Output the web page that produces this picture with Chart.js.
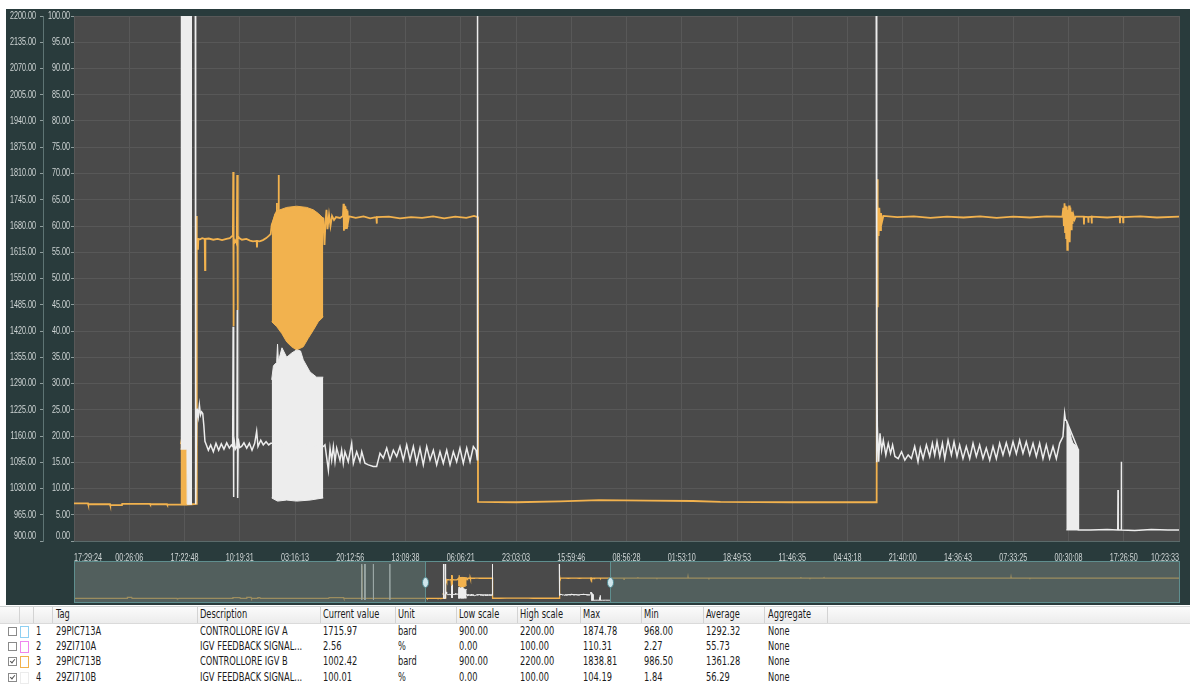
<!DOCTYPE html>
<html>
<head>
<meta charset="utf-8">
<title>IGV trend</title>
<script src="https://cdn.jsdelivr.net/npm/chart.js@4.4.1/dist/chart.umd.min.js"></script>
<style>
  html, body { margin: 0; padding: 0; background: #fff; width: 1190px; height: 684px; overflow: hidden; }
  body { font-family: 'DejaVu Sans Condensed', 'Liberation Sans', Arial, sans-serif; }
  #panel { position: absolute; left: 6px; top: 9px; width: 1184px; height: 596px; background: #293b3c; }
  #main { position: absolute; left: 6px; top: 9px; }
  #nav { position: absolute; left: 74px; top: 561px; }
  #grid { position: absolute; left: 0; top: 605px; width: 1190px; height: 79px; background: #fff; font-size: 11.5px; color: #1b1b1b; }
  #grid .hdr { position: absolute; left: 0; top: 1px; width: 1190px; height: 16px; background: linear-gradient(#fbfbfb, #ececec); border-top: 1px solid #cfd3d3; border-bottom: 1px solid #dadada; }
  #grid .sep { position: absolute; top: 2px; width: 1px; height: 16px; background: #d3d3d3; }
  #grid .cell { position: absolute; white-space: nowrap; line-height: 15px; height: 15px; transform: scaleX(0.8); transform-origin: 0 50%; }
  #grid .box { position: absolute; width: 7px; height: 7px; border: 1px solid #8a8a8a; background: #fff; }
  #grid .box.on::after { content: ''; position: absolute; left: 2px; top: 0px; width: 2px; height: 4px; border: solid #555; border-width: 0 1px 1px 0; transform: rotate(40deg); }
  #grid .swatch { position: absolute; width: 7px; height: 10px; border: 1px solid; background: #fff; }
</style>
</head>
<body>
<div id="panel"></div>
<canvas id="main" width="1184" height="552"></canvas>
<canvas id="nav" width="1106" height="42"></canvas>
<div id="grid"></div>
<script>
// ---- time axis (sample index 0..1000 across the visible window) ----
const xTickLabels = ['17:29:24', '00:26:06', '17:22:48', '10:19:31', '03:16:13', '20:12:56', '13:09:38',
  '06:06:21', '23:03:03', '15:59:46', '08:56:28', '01:53:10', '18:49:53', '11:46:35', '04:43:18',
  '21:40:00', '14:36:43', '07:33:25', '00:30:08', '17:26:50', '10:23:33'];
const viewStart = 0, viewEnd = 1000, tickStep = 50;
const historyStart = -1897, historyEnd = 4076;

// ---- 29PIC713B, controller IGV B [bard] ----
const orangePoints = [
  [0, 993], [12.7, 993], [12.9, 991], [32.6, 991], [32.8, 989], [43.4, 989], [43.6, 992], [68.8, 992],
  [69, 991], [84.2, 991], [84.4, 990], [96.2, 990], [102.4, 990], [106.8, 991], [110.7, 992],
  [110.9, 1705], [111.3, 1650], [111.8, 1646], [112.2, 1621], [112.5, 1648], [114, 1647], [116, 1650],
  [118.3, 1648], [118.6, 1571], [118.9, 1648], [122, 1649], [126, 1646], [130, 1648], [134, 1645],
  [138, 1648], [141, 1650], [143.0, 1655], [143.8, 1662], [144.1, 1814], [144.3, 1432], [144.6, 1650],
  [145.5, 1640], [146.5, 1645], [147.3, 1636], [147.7, 1806], [148.0, 1472], [148.4, 1655], [149.5, 1650],
  [152, 1646], [156, 1648], [159.3, 1644], [162, 1642], [165.3, 1643], [165.6, 1627], [165.9, 1643],
  [168, 1642], [171, 1645], [174, 1650], [176.5, 1656], [178.0, 1660], [178.9, 1682], [183.3, 1715],
  [183.5, 1737], [183.7, 1715], [185.0, 1718], [185.2, 1806], [185.4, 1718], [205, 1720], [225.6, 1699],
  [226.7, 1633], [227.6, 1690], [228.5, 1720], [229.4, 1672], [230.8, 1708], [232.1, 1680], [233.5, 1705],
  [235.3, 1695], [237.1, 1702], [240.7, 1700], [243.4, 1705], [243.9, 1735], [244.3, 1668], [244.8, 1730],
  [245.2, 1672], [245.7, 1728], [246.2, 1675], [246.6, 1722], [247.1, 1680], [247.5, 1718], [248.0, 1690],
  [248.9, 1704], [255, 1700], [262, 1704], [268, 1699], [273.6, 1702], [273.9, 1686], [274.2, 1702],
  [285, 1703], [295, 1699], [305, 1702], [315, 1700], [325, 1704], [335, 1699], [345, 1703], [355, 1700],
  [362, 1705], [365.4, 1702], [365.6, 997], [400, 996], [440, 998], [475, 1001], [520, 1000], [560, 999],
  [585, 997], [650, 996], [726.4, 996], [726.7, 1796], [727.0, 1479], [727.6, 1732], [728.2, 1655],
  [728.8, 1725], [729.5, 1670], [730.3, 1712], [731.2, 1690], [732.5, 1705], [745, 1702], [760, 1704],
  [775, 1700], [790, 1703], [805, 1701], [820, 1704], [835, 1700], [850, 1703], [865, 1701], [880, 1704],
  [894.5, 1703], [895.3, 1725], [895.8, 1680], [896.4, 1736], [896.9, 1665], [897.4, 1730], [897.9, 1650],
  [898.4, 1728], [898.9, 1621], [899.4, 1720], [899.9, 1660], [900.5, 1731], [901.1, 1640], [901.7, 1726],
  [902.3, 1672], [902.9, 1715], [903.6, 1685], [904.4, 1708], [905.5, 1696], [906.5, 1703], [913.8, 1703],
  [914.0, 1684], [914.2, 1703], [917.8, 1702], [918.0, 1688], [918.2, 1702], [920.8, 1703], [921.0, 1686],
  [921.2, 1703], [935, 1701], [946.4, 1703], [946.6, 1687], [946.8, 1703], [949.3, 1702], [949.5, 1689],
  [949.7, 1702], [965, 1704], [980, 1701], [1000, 1703]
];
// dense oscillation envelopes (min / max per time slice)
const orangeSurgeTop = [[96.4, 1140], [98.0, 1165], [100.0, 1170], [102.3, 1120]];
const orangeSurgeBottom = [[96.4, 990], [98.0, 990], [100.0, 990], [102.3, 990]];
const orangeBurstTop = [[178.9, 1682], [181.9, 1711], [186.4, 1720], [192.5, 1726], [201.5, 1729],
  [210.6, 1726], [216.6, 1720], [221.1, 1711], [225.6, 1699]];
const orangeBurstBottom = [[178.9, 1443], [183.4, 1431], [188.0, 1414], [192.5, 1393], [197.0, 1381],
  [201.5, 1373], [204.5, 1377], [207.5, 1381], [212.0, 1402], [216.6, 1422], [221.1, 1443], [225.6, 1455]];

// ---- 29ZI710B, IGV feedback signal [%] (values above 100 run off the top) ----
const whitePoints = [
  [0, 104], [96.0, 104], [106.8, 104], [109.8, 104], [110.1, 7], [110.9, 22.5], [111.5, 25.2], [112.5, 23.7],
  [113.5, 25.9], [114.5, 24.0], [115.5, 24.6], [116.5, 24.3], [117.5, 22.0], [118.5, 19.0], [119.2, 18.6],
  [121.6, 17.3], [123.7, 18.3], [126.1, 17.0], [128.5, 18.6], [130.9, 17.3], [133.3, 18.5], [135.7, 17.5],
  [138.2, 18.7], [140.6, 17.7], [142.4, 18.3], [143.6, 18.0], [144.0, 40.8], [144.3, 8.4], [144.7, 20],
  [146, 17.5], [147.4, 18.0], [147.8, 44], [148.1, 8.2], [148.6, 19.5], [150, 17.8], [151.7, 18.0],
  [153.8, 18.7], [156.3, 17.7], [158.7, 18.6], [161.1, 17.3], [163.5, 18.6], [165.3, 20.9], [166.5, 18.0],
  [169.0, 19.2], [171.3, 18.3], [173.8, 18.9], [176.2, 18.3], [178.0, 18.6], [178.9, 18.6], [225.6, 18.0],
  [227.1, 18.3], [230.2, 13.5], [231.7, 17.7], [233.2, 15.4], [234.7, 18.0], [236.2, 15.1], [237.7, 17.7],
  [240.7, 15.4], [242.2, 17.3], [243.7, 14.8], [245.2, 17.0], [248.2, 15.1], [251.3, 18.6], [252.8, 14.8],
  [255.8, 17.0], [258.8, 15.1], [260.4, 17.0], [263.3, 14.8], [266.4, 14.5], [270.9, 14.2], [273.9, 14.2],
  [276.9, 16.7], [279.9, 15.8], [283.0, 17.7], [286.0, 15.4], [289.0, 17.3], [292.0, 16.1], [295.0, 18.0],
  [298.0, 15.4], [301.1, 18.3], [304.1, 15.4], [307.1, 18.0], [310.1, 14.8], [313.1, 17.7], [316.1, 14.5],
  [319.2, 18.0], [322.2, 15.4], [325.2, 17.3], [328.2, 14.5], [331.2, 17.0], [334.2, 14.8], [337.3, 17.3],
  [340.3, 14.5], [343.3, 17.0], [346.3, 15.1], [349.3, 17.7], [352.3, 14.8], [355.4, 17.7], [358.4, 15.1],
  [361.4, 18.0], [363.8, 17.3], [365.0, 15.5], [365.2, 104], [726.0, 104], [726.3, 15], [726.6, 35],
  [727.0, 21.8], [728.2, 15.1], [729.4, 20.5], [730.9, 17.3], [732.4, 19.2], [734.7, 16.4], [736.9, 18.6],
  [739.0, 16.7], [740.8, 18.3], [742.9, 16.1], [745.9, 15.7], [748.9, 17.0], [751.9, 15.4], [754.9, 16.4],
  [757.8, 15.7], [760.8, 18.0], [763.8, 15.1], [765.9, 17.7], [768.4, 15.7], [771.4, 18.3], [774.4, 16.1],
  [776.8, 18.6], [778.9, 16.4], [781.0, 18.9], [783.5, 16.1], [785.9, 18.6], [788.0, 15.7], [791.0, 19.2],
  [794.0, 16.4], [796.4, 18.9], [799.1, 16.1], [801.5, 18.3], [804.5, 15.7], [807.5, 18.0], [810.6, 15.7],
  [813.6, 18.6], [816.6, 16.1], [819.6, 18.3], [822.6, 15.7], [825.6, 17.7], [828.7, 15.4], [831.7, 18.0],
  [834.7, 15.7], [837.7, 18.6], [840.7, 16.4], [843.7, 18.7], [846.8, 16.4], [849.8, 18.9], [852.8, 16.6],
  [855.8, 19.2], [858.8, 16.7], [861.8, 18.9], [864.9, 16.4], [867.9, 18.6], [870.9, 16.1], [873.9, 18.6],
  [876.9, 15.7], [879.9, 18.3], [882.9, 15.7], [886.0, 18.0], [889.0, 15.7], [892.0, 18.6], [895.0, 19.9],
  [896.5, 24.3], [897.3, 23.0], [898.0, 23.0], [908.6, 17.5], [909.0, 2.1], [920, 2.1], [935, 2.2],
  [944.6, 2.1], [944.8, 9.7], [945.0, 2.1], [947.6, 2.1], [947.8, 15.1], [948.0, 2.1], [960, 2.0],
  [975, 2.2], [990, 2.1], [1000, 2.1]
];
const whiteSpikeTop = [[96.4, 104], [102.3, 104], [106.8, 104]];
const whiteSpikeBottom = [[96.4, 17.5], [102.2, 17.5], [102.4, 7.0], [106.8, 7.0]];
const whiteBurstTop = [[178.9, 30.7], [180.5, 33.4], [183.4, 34.0], [184.2, 37.5], [185.0, 34.2], [188.2, 36.8],
  [192.5, 35.0], [197.0, 35.8], [201.5, 36.4], [205.0, 36.2], [207.5, 34.5], [213.6, 32.2], [219.6, 31.2], [225.6, 31.2]];
const whiteBurstBottom = [[178.9, 8.2], [184.2, 7.6], [192.5, 7.8], [201.5, 7.6], [213.6, 7.8], [225.6, 8.2]];
const whiteTailTop = [[898.0, 23.0], [899.5, 22.0], [901.1, 21.0], [902.6, 19.5], [904.1, 18.6], [906.0, 18.3], [908.6, 17.5]];
const whiteTailBottom = [[898.0, 2.1], [908.6, 2.1]];

// ---- history outside the visible window (overview strip) ----
const orangeBefore = [[-1897, 990], [-1610, 990], [-1608, 1025], [-1585, 1025], [-1583, 990], [-1340, 990],
  [-1338, 975], [-1330, 990], [-1040, 990], [-1038, 1022], [-1000, 1022], [-998, 993], [-965, 993],
  [-963, 1025], [-940, 1025], [-938, 993], [-905, 993], [-903, 1020], [-892, 1020], [-890, 993], [-520, 993],
  [-518, 1022], [-440, 1022], [-438, 990], [-342, 990], [-341, 2150], [-340, 990], [-10, 990]];
const whiteBefore = [[-1897, 104], [-342, 104], [-341.5, 3], [-341, 104], [-325, 104], [-324.5, 3], [-324, 104],
  [-279, 104], [-278.5, 3], [-278, 104], [-190, 104], [-189.5, 3], [-189, 104], [-1, 104]];
const orangeAfter = [[1010, 1703], [1075, 1702], [1076, 1660], [1077, 1703], [1150, 1703], [1151, 1740],
  [1152, 1703], [1253, 1702], [1254, 1665], [1255, 1702], [1421, 1703], [1422, 1745], [1423, 1703],
  [1534, 1702], [1535, 1660], [1536, 1702], [2031, 1703], [2032, 1740], [2033, 1703], [2080, 1702],
  [2081, 1665], [2082, 1702], [2156, 1703], [2157, 1745], [2158, 1703], [3167, 1702], [3168, 1740],
  [3169, 1702], [3269, 1703], [3270, 1665], [3271, 1703], [4076, 1702]];

// ---- tag table ----
const tableHeaders = ['Tag', 'Description', 'Current value', 'Unit', 'Low scale', 'High scale', 'Max', 'Min', 'Average', 'Aggregate'];
const rowTags = ['29PIC713A', '29ZI710A', '29PIC713B', '29ZI710B'];
const rowDescriptions = ['CONTROLLORE IGV A', 'IGV FEEDBACK SIGNAL...', 'CONTROLLORE IGV B', 'IGV FEEDBACK SIGNAL...'];
const rowCurrent = ['1715.97', '2.56', '1002.42', '100.01'];
const rowUnits = ['bard', '%', 'bard', '%'];
const rowLow = ['900.00', '0.00', '900.00', '0.00'];
const rowHigh = ['2200.00', '100.00', '2200.00', '100.00'];
const rowMax = ['1874.78', '110.31', '1838.81', '104.19'];
const rowMin = ['968.00', '2.27', '986.50', '1.84'];
const rowAvg = ['1292.32', '55.73', '1361.28', '56.29'];
const rowAggregate = ['None', 'None', 'None', 'None'];
const rowChecked = [false, false, true, true];
const rowSwatch = ['#8fd0f2', '#ef86ef', '#f2b24c', '#ececec'];

// ---- styling ----
const ORANGE = '#f2b24e';
const WHITE = '#ededed';
const TICK_FONT_CSS = "10px 'Liberation Sans', Arial, sans-serif";
const TICK_SQUEEZE = 0.72;
const TICK_COLOR = '#d0d6d6';

const xy = a => a.map(([x, y]) => ({ x, y }));
function series(data, color, axis, order, width, extra) {
  return Object.assign({
    type: 'line', data: xy(data), borderColor: color, backgroundColor: color, borderWidth: width,
    pointRadius: 0, tension: 0, fill: false, yAxisID: axis, order, parsing: false
  }, extra || {});
}
function envelope(top, bottom, color, axis, order) {
  return [series(top, color, axis, order, 1, { fill: '+1' }), series(bottom, color, axis, order, 1)];
}
function buildDatasets(orange, white, lw) {
  return [
    series(white, WHITE, 'yPct', 0, lw),
    ...envelope(whiteSpikeTop, whiteSpikeBottom, WHITE, 'yPct', 1),
    ...envelope(whiteBurstTop, whiteBurstBottom, WHITE, 'yPct', 1),
    ...envelope(whiteTailTop, whiteTailBottom, WHITE, 'yPct', 1),
    series(orange, ORANGE, 'yBard', 2, lw + 0.3),
    ...envelope(orangeSurgeTop, orangeSurgeBottom, ORANGE, 'yBard', 3),
    ...envelope(orangeBurstTop, orangeBurstBottom, ORANGE, 'yBard', 3)
  ];
}

const plotBackground = {
  id: 'plotBackground',
  beforeDraw(chart) {
    const { ctx, chartArea: a } = chart;
    ctx.save();
    ctx.fillStyle = '#4a4a4a';
    ctx.fillRect(a.left, a.top, a.right - a.left, a.bottom - a.top);
    ctx.restore();
  }
};

// tick labels in a narrow face, placed from each scale's own ticks
const narrowTickLabels = {
  id: 'narrowTickLabels',
  afterDraw(chart) {
    const ctx = chart.ctx;
    const area = chart.chartArea;
    const put = (text, x, y, align) => {
      ctx.save();
      ctx.translate(x, y);
      ctx.scale(TICK_SQUEEZE, 1);
      ctx.textAlign = align;
      ctx.fillText(text, 0, 0);
      ctx.restore();
    };
    ctx.save();
    ctx.fillStyle = TICK_COLOR;
    ctx.font = TICK_FONT_CSS;
    ctx.textBaseline = 'middle';
    for (const [id, gap] of [['yPct', 4], ['yBard', 7]]) {
      const s = chart.scales[id];
      s.ticks.forEach(t => put(t.value.toFixed(2), s.right - gap,
        Math.min(s.getPixelForValue(t.value), area.bottom - 5), 'right'));
    }
    const sx = chart.scales.x;
    const last = sx.ticks.length - 1;
    sx.ticks.forEach((t, i) => put(xTickLabels[i], sx.getPixelForValue(t.value), sx.top + 17,
      i === 0 ? 'left' : i === last ? 'right' : 'center'));
    ctx.restore();
  }
};

new Chart(document.getElementById('main'), {
  type: 'line',
  data: { datasets: buildDatasets(orangePoints, whitePoints, 1.5) },
  options: {
    responsive: false, animation: false, devicePixelRatio: 1,
    layout: { padding: { top: 7, right: 11, left: 0, bottom: 0 } },
    plugins: { legend: { display: false }, tooltip: { enabled: false } },
    scales: {
      x: {
        type: 'linear', min: viewStart, max: viewEnd,
        ticks: { stepSize: tickStep, autoSkip: false, maxRotation: 0, display: false },
        grid: { color: '#585858', drawTicks: false },
        border: { display: true, color: '#5b6b6b' },
        afterFit(s) { s.height = 20; }
      },
      yPct: {
        type: 'linear', position: 'left', weight: 0, min: 0, max: 100,
        ticks: { stepSize: 5, display: false },
        grid: { color: '#585858', tickLength: 3, tickColor: '#8e9c9c' },
        border: { display: false },
        afterFit(s) { s.width = 31; }
      },
      yBard: {
        type: 'linear', position: 'left', weight: 1, min: 900, max: 2200,
        ticks: { stepSize: 65, display: false },
        grid: { drawOnChartArea: false, tickLength: 3, color: '#8e9c9c' },
        border: { display: true, color: '#5e7474' },
        afterFit(s) { s.width = 37; }
      }
    }
  },
  plugins: [plotBackground, narrowTickLabels]
});

// overview strip: full history with the visible window left clear
const windowShade = {
  id: 'windowShade',
  beforeDraw(chart) {
    const { ctx, width, height } = chart;
    ctx.save();
    ctx.fillStyle = '#4a4a4a';
    ctx.fillRect(0, 0, width, height);
    ctx.restore();
  },
  afterDatasetsDraw(chart) {
    const { ctx, width, height } = chart;
    const sx = chart.scales.x;
    const x0 = Math.round(sx.getPixelForValue(viewStart)) + 0.5;
    const x1 = Math.round(sx.getPixelForValue(viewEnd)) + 0.5;
    ctx.save();
    ctx.fillStyle = 'rgba(90,112,108,0.56)';
    ctx.fillRect(0, 0, x0, height);
    ctx.fillRect(x1, 0, width - x1, height);
    ctx.strokeStyle = '#5f8e8e';
    ctx.lineWidth = 1;
    ctx.strokeRect(0.5, 0.5, width - 1, height - 1);
    ctx.beginPath();
    ctx.moveTo(x0, 0); ctx.lineTo(x0, height);
    ctx.moveTo(x1, 0); ctx.lineTo(x1, height);
    ctx.stroke();
    for (const hx of [x0, x1]) {
      ctx.beginPath();
      ctx.ellipse(hx, height / 2 + 0.5, 3, 5, 0, 0, Math.PI * 2);
      ctx.fillStyle = '#cfe6ec';
      ctx.fill();
      ctx.strokeStyle = '#4f8a92';
      ctx.stroke();
    }
    ctx.restore();
  }
};

new Chart(document.getElementById('nav'), {
  type: 'line',
  data: {
    datasets: buildDatasets(orangeBefore.concat(orangePoints, orangeAfter),
                            whiteBefore.concat(whitePoints), 1)
  },
  options: {
    responsive: false, animation: false, devicePixelRatio: 1,
    layout: { padding: { top: 3, bottom: 2, left: 0, right: 1 } },
    plugins: { legend: { display: false }, tooltip: { enabled: false } },
    scales: {
      x: { type: 'linear', display: false, min: historyStart, max: historyEnd },
      yPct: { type: 'linear', display: false, min: 0, max: 100 },
      yBard: { type: 'linear', display: false, min: 900, max: 2200 }
    }
  },
  plugins: [windowShade]
});

// ---- tag table ----
const grid = document.getElementById('grid');
function add(cls, x, y, text, style) {
  const d = document.createElement('div');
  d.className = cls;
  d.style.left = x + 'px';
  d.style.top = y + 'px';
  if (text !== undefined) d.textContent = text;
  if (style) Object.assign(d.style, style);
  grid.appendChild(d);
  return d;
}
add('hdr', 0, 1);
[19, 33, 52, 197, 320, 395, 456, 517, 580, 641, 703, 764, 827].forEach(x => add('sep', x, 2));
const colX = [56, 200, 323, 398, 459, 520, 583, 644, 706, 768];
tableHeaders.forEach((h, i) => add('cell', colX[i], 2, h));
const rowTop = [18.5, 33.5, 48.5, 64.5];
rowTags.forEach((tag, r) => {
  const y = rowTop[r];
  add('box' + (rowChecked[r] ? ' on' : ''), 8, y + 3);
  add('swatch', 20, y + 2, undefined, { borderColor: rowSwatch[r] });
  add('cell', 36, y, String(r + 1));
  const vals = [tag, rowDescriptions[r], rowCurrent[r], rowUnits[r], rowLow[r], rowHigh[r], rowMax[r], rowMin[r], rowAvg[r], rowAggregate[r]];
  vals.forEach((v, i) => add('cell', colX[i], y, v));
});
</script>
</body>
</html>
